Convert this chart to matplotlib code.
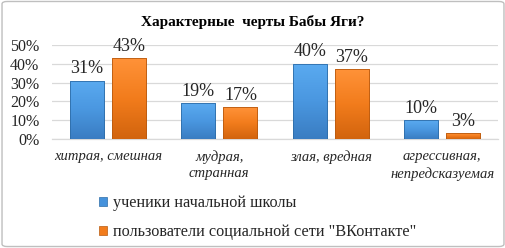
import matplotlib
matplotlib.use("Agg")
import matplotlib.pyplot as plt
from matplotlib.patches import FancyBboxPatch, Patch
from matplotlib.colors import LinearSegmentedColormap
import numpy as np

categories = ["хитрая, смешная", "мудрая,\nстранная", "злая, вредная", "агрессивная,\nнепредсказуемая"]
series_names = ["ученики начальной школы", "пользователи социальной сети \"ВКонтакте\""]
pupils = [31, 19, 40, 10]
vk_users = [43, 17, 37, 3]
yticks = [0, 10, 20, 30, 40, 50]
title = "Характерные  черты Бабы Яги?"

plt.rcParams['font.family'] = ['Liberation Serif', 'DejaVu Serif']

fig = plt.figure(figsize=(5.06, 2.48), dpi=100)
fig.patch.set_facecolor("white")
border = FancyBboxPatch((0.004, 0.006), 0.992, 0.988, boxstyle="round,pad=0,rounding_size=0.01",
                        transform=fig.transFigure, fill=False, edgecolor="#BFBFBF", linewidth=1.0)
fig.patches.append(border)

ax = fig.add_axes([52/506, 1-139/248, 446/506, 94/248])
x = np.arange(len(categories))
w = 0.305
off = 0.19
colors = ["#4592DC", "#F27C1C"]
edges = ["#2E6DA8", "#B85A10"]
grads = [LinearSegmentedColormap.from_list("b", ["#3A7DC2", "#4A97E0", "#5AAAF0"]),
         LinearSegmentedColormap.from_list("o", ["#D2640E", "#F27C1C", "#FF9238"])]
grad = np.linspace(0, 1, 64).reshape(-1, 1)

ax.set_xlim(-0.5, len(categories) - 0.5)
ax.set_ylim(0, 50)
for vals, o, c, e, cm in [(pupils, -off, colors[0], edges[0], grads[0]),
                          (vk_users, off, colors[1], edges[1], grads[1])]:
    bars = ax.bar(x + o, vals, width=w, color=c, edgecolor=e, linewidth=0.6, zorder=3)
    for b, v in zip(bars, vals):
        x0 = b.get_x(); x1 = x0 + b.get_width()
        im = ax.imshow(grad, cmap=cm, extent=[x0, x1, 0, v], origin="lower",
                       aspect="auto", zorder=3.5, interpolation="bilinear")
        im.set_clip_path(b)
        ax.bar(b.get_x() + b.get_width()/2, v, width=w, fill=False, edgecolor=e, linewidth=0.6, zorder=3.6)
        ax.text(x0 + b.get_width()/2, v + 1.8, f"{v}%", ha="center", va="bottom",
                fontsize=13, color="#262626", zorder=4)

ax.set_xlim(-0.5, len(categories) - 0.5)
ax.set_ylim(0, 50)
ax.set_yticks(yticks)
ax.set_yticklabels([f"{t}%" for t in yticks], fontsize=11.5, color="#262626")
ax.yaxis.grid(True, color="#D9D9D9", linewidth=0.9, zorder=0)
ax.set_axisbelow(True)
ax.tick_params(axis="y", length=0, pad=9)
ax.tick_params(axis="x", length=0, pad=8)
ax.set_xticks(x)
ax.set_xticklabels(categories, fontsize=10.5, style="italic", color="#262626", linespacing=1.35)
for s in ["top", "right", "left"]:
    ax.spines[s].set_visible(False)
ax.spines["bottom"].set_color("#D9D9D9")
ax.spines["bottom"].set_linewidth(0.9)

fig.text(0.5, 1-22/248, title, ha="center", va="center", fontsize=11, fontweight="bold", color="#000000")

handles = [Patch(facecolor=colors[0], edgecolor=edges[0], linewidth=0.5),
           Patch(facecolor=colors[1], edgecolor=edges[1], linewidth=0.5)]
leg = fig.legend(handles, series_names, loc="upper left", bbox_to_anchor=(99/506, 1-195/248),
                 frameon=False, fontsize=11.7, handlelength=0.5, handleheight=0.5,
                 handletextpad=0.35, labelspacing=0.8, borderpad=0, borderaxespad=0)
for t in leg.get_texts():
    t.set_color("#262626")

fig.savefig("out.png", dpi=100, facecolor="white")
